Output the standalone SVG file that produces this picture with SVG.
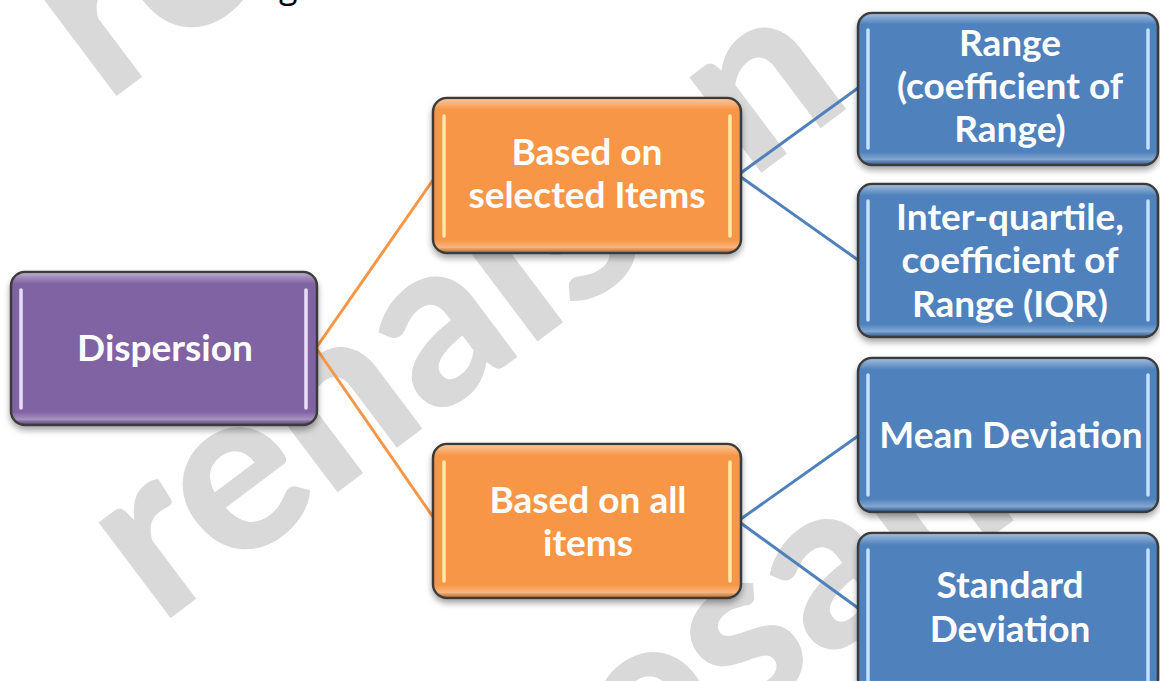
<svg xmlns="http://www.w3.org/2000/svg" width="1160" height="681" viewBox="0 0 1160 681">
  <defs>
    <filter id="shadow" x="-10%" y="-10%" width="120%" height="135%">
      <feGaussianBlur in="SourceAlpha" stdDeviation="3"/>
      <feOffset dy="4" result="b"/>
      <feComponentTransfer><feFuncA type="linear" slope="0.35"/></feComponentTransfer>
      <feMerge><feMergeNode/><feMergeNode in="SourceGraphic"/></feMerge>
    </filter>
    <linearGradient id="gloss" x1="0" y1="0" x2="0" y2="1">
      <stop offset="0" stop-color="#ffffff" stop-opacity="0.45"/>
      <stop offset="0.07" stop-color="#ffffff" stop-opacity="0"/>
      <stop offset="0.92" stop-color="#ffffff" stop-opacity="0"/>
      <stop offset="0.97" stop-color="#ffffff" stop-opacity="0.3"/>
      <stop offset="1" stop-color="#000000" stop-opacity="0.15"/>
    </linearGradient>
  </defs>
  <style>
    .wm { font-family: Lato, "Open Sans", sans-serif; font-weight: 900; font-size: 232px; fill: #d9d9d9; }
    .box { stroke: #3b3b3b; stroke-width: 2.5; }
    .gl { fill: url(#gloss); stroke: none; }
    .purple { fill: #8064a2; }
    .orange { fill: #f79646; }
    .blue { fill: #4f81bd; }
    .hl { stroke-width: 3.5; stroke-linecap: round; fill: none; }
    .hlp { stroke: #e9defa; }
    .hlo { stroke: #ffe9a6; }
    .hlb { stroke: #c4e0ff; }
    .lbl { font-family: Lato, Roboto, "Open Sans", sans-serif; font-weight: 700; font-size: 37px; fill: #ffffff; text-anchor: middle; }
    .conn-o { stroke: #f79646; stroke-width: 3; fill: none; }
    .conn-b { stroke: #4f81bd; stroke-width: 3; fill: none; }
  </style>
  <rect width="1160" height="681" fill="#ffffff"/>

  <g id="watermark">
    <text class="wm" transform="translate(106,104) rotate(-37)">renalsan</text>
    <text class="wm" transform="translate(160,626) rotate(-37)">renalsan</text>
    <text class="wm" transform="translate(642,800) rotate(-37)">esan</text>
  </g>

  <text x="279" y="-2" font-family="'Open Sans', sans-serif" font-size="34" fill="#000000">g</text>

  <g id="connectors">
    <path class="conn-o" d="M316,348 L433,180"/>
    <path class="conn-o" d="M316,348 L433,517"/>
    <path class="conn-b" d="M738,175 L858,88"/>
    <path class="conn-b" d="M738,175 L858,260"/>
    <path class="conn-b" d="M738,521 L858,436"/>
    <path class="conn-b" d="M738,521 L858,608"/>
  </g>

  <g id="node-dispersion">
    <rect class="box purple" x="11" y="272" width="306" height="153" rx="14" filter="url(#shadow)"/>
    <rect class="gl" x="12" y="273" width="304" height="151" rx="13"/>
    <path class="hl hlp" d="M21,290 V408 M306,290 V408"/>
    <text class="lbl" x="165" y="361">Dispersion</text>
  </g>

  <g id="node-selected">
    <rect class="box orange" x="433" y="98" width="308" height="155" rx="14" filter="url(#shadow)"/>
    <rect class="gl" x="434" y="99" width="306" height="153" rx="13"/>
    <path class="hl hlo" d="M444,116 V236 M730,116 V236"/>
    <text class="lbl" x="587" y="165">Based on</text>
    <text class="lbl" x="587" y="208">selected Items</text>
  </g>

  <g id="node-all">
    <rect class="box orange" x="433" y="444" width="308" height="154" rx="14" filter="url(#shadow)"/>
    <rect class="gl" x="434" y="445" width="306" height="152" rx="13"/>
    <path class="hl hlo" d="M444,462 V581 M730,462 V581"/>
    <text class="lbl" x="588" y="513">Based on all</text>
    <text class="lbl" x="588" y="556">items</text>
  </g>

  <g id="node-range">
    <rect class="box blue" x="858" y="13" width="300" height="152" rx="14" filter="url(#shadow)"/>
    <rect class="gl" x="859" y="14" width="298" height="150" rx="13"/>
    <path class="hl hlb" d="M868,30 V148 M1148,30 V148"/>
    <text class="lbl" x="1010" y="56">Range</text>
    <text class="lbl" x="1010" y="99">(coefficient of</text>
    <text class="lbl" x="1010" y="142">Range)</text>
  </g>

  <g id="node-iqr">
    <rect class="box blue" x="858" y="184" width="300" height="153" rx="14" filter="url(#shadow)"/>
    <rect class="gl" x="859" y="185" width="298" height="151" rx="13"/>
    <path class="hl hlb" d="M868,201 V320 M1148,201 V320"/>
    <text class="lbl" x="1010" y="230">Inter-quartile,</text>
    <text class="lbl" x="1010" y="273">coefficient of</text>
    <text class="lbl" x="1010" y="317">Range (IQR)</text>
  </g>

  <g id="node-mean">
    <rect class="box blue" x="858" y="358" width="300" height="154" rx="14" filter="url(#shadow)"/>
    <rect class="gl" x="859" y="359" width="298" height="152" rx="13"/>
    <path class="hl hlb" d="M868,375 V495 M1148,375 V495"/>
    <text class="lbl" x="1011" y="448">Mean Deviation</text>
  </g>

  <g id="node-sd">
    <rect class="box blue" x="858" y="533" width="300" height="160" rx="14" filter="url(#shadow)"/>
    <rect class="gl" x="859" y="534" width="298" height="158" rx="13"/>
    <path class="hl hlb" d="M868,550 V690 M1148,550 V690"/>
    <text class="lbl" x="1010" y="598">Standard</text>
    <text class="lbl" x="1010" y="642">Deviation</text>
  </g>
</svg>
